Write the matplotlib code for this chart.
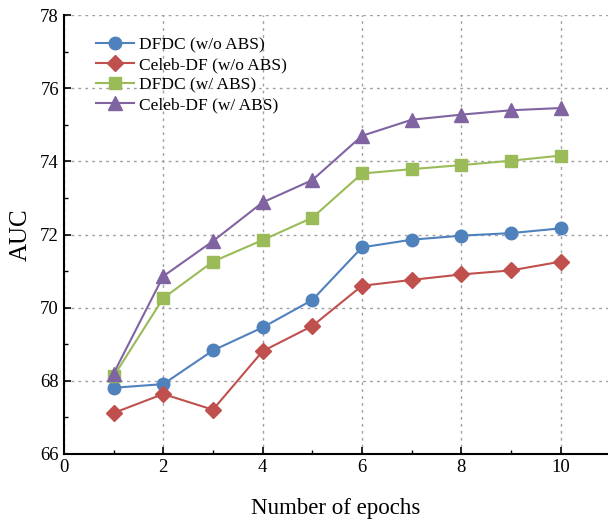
import matplotlib
matplotlib.use('Agg')
import matplotlib.pyplot as plt
from matplotlib.ticker import MultipleLocator

plt.rcParams['font.family'] = ['Liberation Serif', 'DejaVu Serif']

epochs = [1, 2, 3, 4, 5, 6, 7, 8, 9, 10]
dfdc_wo = [67.81, 67.91, 68.83, 69.46, 70.21, 71.65, 71.86, 71.97, 72.04, 72.17]
celeb_wo = [67.12, 67.64, 67.21, 68.81, 69.50, 70.60, 70.76, 70.91, 71.02, 71.26]
dfdc_w = [68.12, 70.26, 71.26, 71.85, 72.46, 73.67, 73.79, 73.90, 74.02, 74.16]
celeb_w = [68.20, 70.86, 71.82, 72.88, 73.49, 74.70, 75.14, 75.28, 75.40, 75.46]

series = [
    (dfdc_wo, 'DFDC (w/o ABS)', '#4F81BD', 'o', 9),
    (celeb_wo, 'Celeb-DF (w/o ABS)', '#C0504D', 'D', 8),
    (dfdc_w, 'DFDC (w/ ABS)', '#9BBB59', 's', 8),
    (celeb_w, 'Celeb-DF (w/ ABS)', '#8064A2', '^', 10),
]

fig = plt.figure(figsize=(6.08, 5.23), dpi=100)
ax = fig.add_axes([0.105, 0.132, 0.895, 0.839])

for vals, label, color, marker, ms in series:
    ax.plot(epochs, vals, color=color, marker=marker, markersize=ms,
            linewidth=1.5, label=label)

ax.set_xlim(0, 10.95)
ax.set_ylim(66, 78)
ax.xaxis.set_major_locator(MultipleLocator(2))
ax.xaxis.set_minor_locator(MultipleLocator(1))
ax.yaxis.set_major_locator(MultipleLocator(2))
ax.yaxis.set_minor_locator(MultipleLocator(1))
ax.tick_params(which='major', direction='in', length=5, width=1.2, labelsize=13.5)
ax.tick_params(which='minor', direction='in', length=3, width=1.0)

ax.grid(True, which='major', linestyle=(0, (2, 3)), color='#a0a0a0', linewidth=1.0)
ygrid = ax.yaxis.get_gridlines()
ygrid[0].set_visible(False)
ygrid[-1].set_visible(False)
ax.xaxis.get_gridlines()[0].set_visible(False)
ax.set_axisbelow(True)

for side in ['top', 'right']:
    ax.spines[side].set_visible(False)
for side in ['left', 'bottom']:
    ax.spines[side].set_linewidth(1.5)

ax.set_xlabel('Number of epochs', fontsize=16.5, labelpad=16)
ax.set_ylabel('AUC', fontsize=18, labelpad=6)

ax.legend(loc='upper left', bbox_to_anchor=(0.03, 0.985), frameon=False,
          fontsize=12.5, handlelength=2.2, labelspacing=0.22, handletextpad=0.3)

fig.savefig('out.png', dpi=100)
